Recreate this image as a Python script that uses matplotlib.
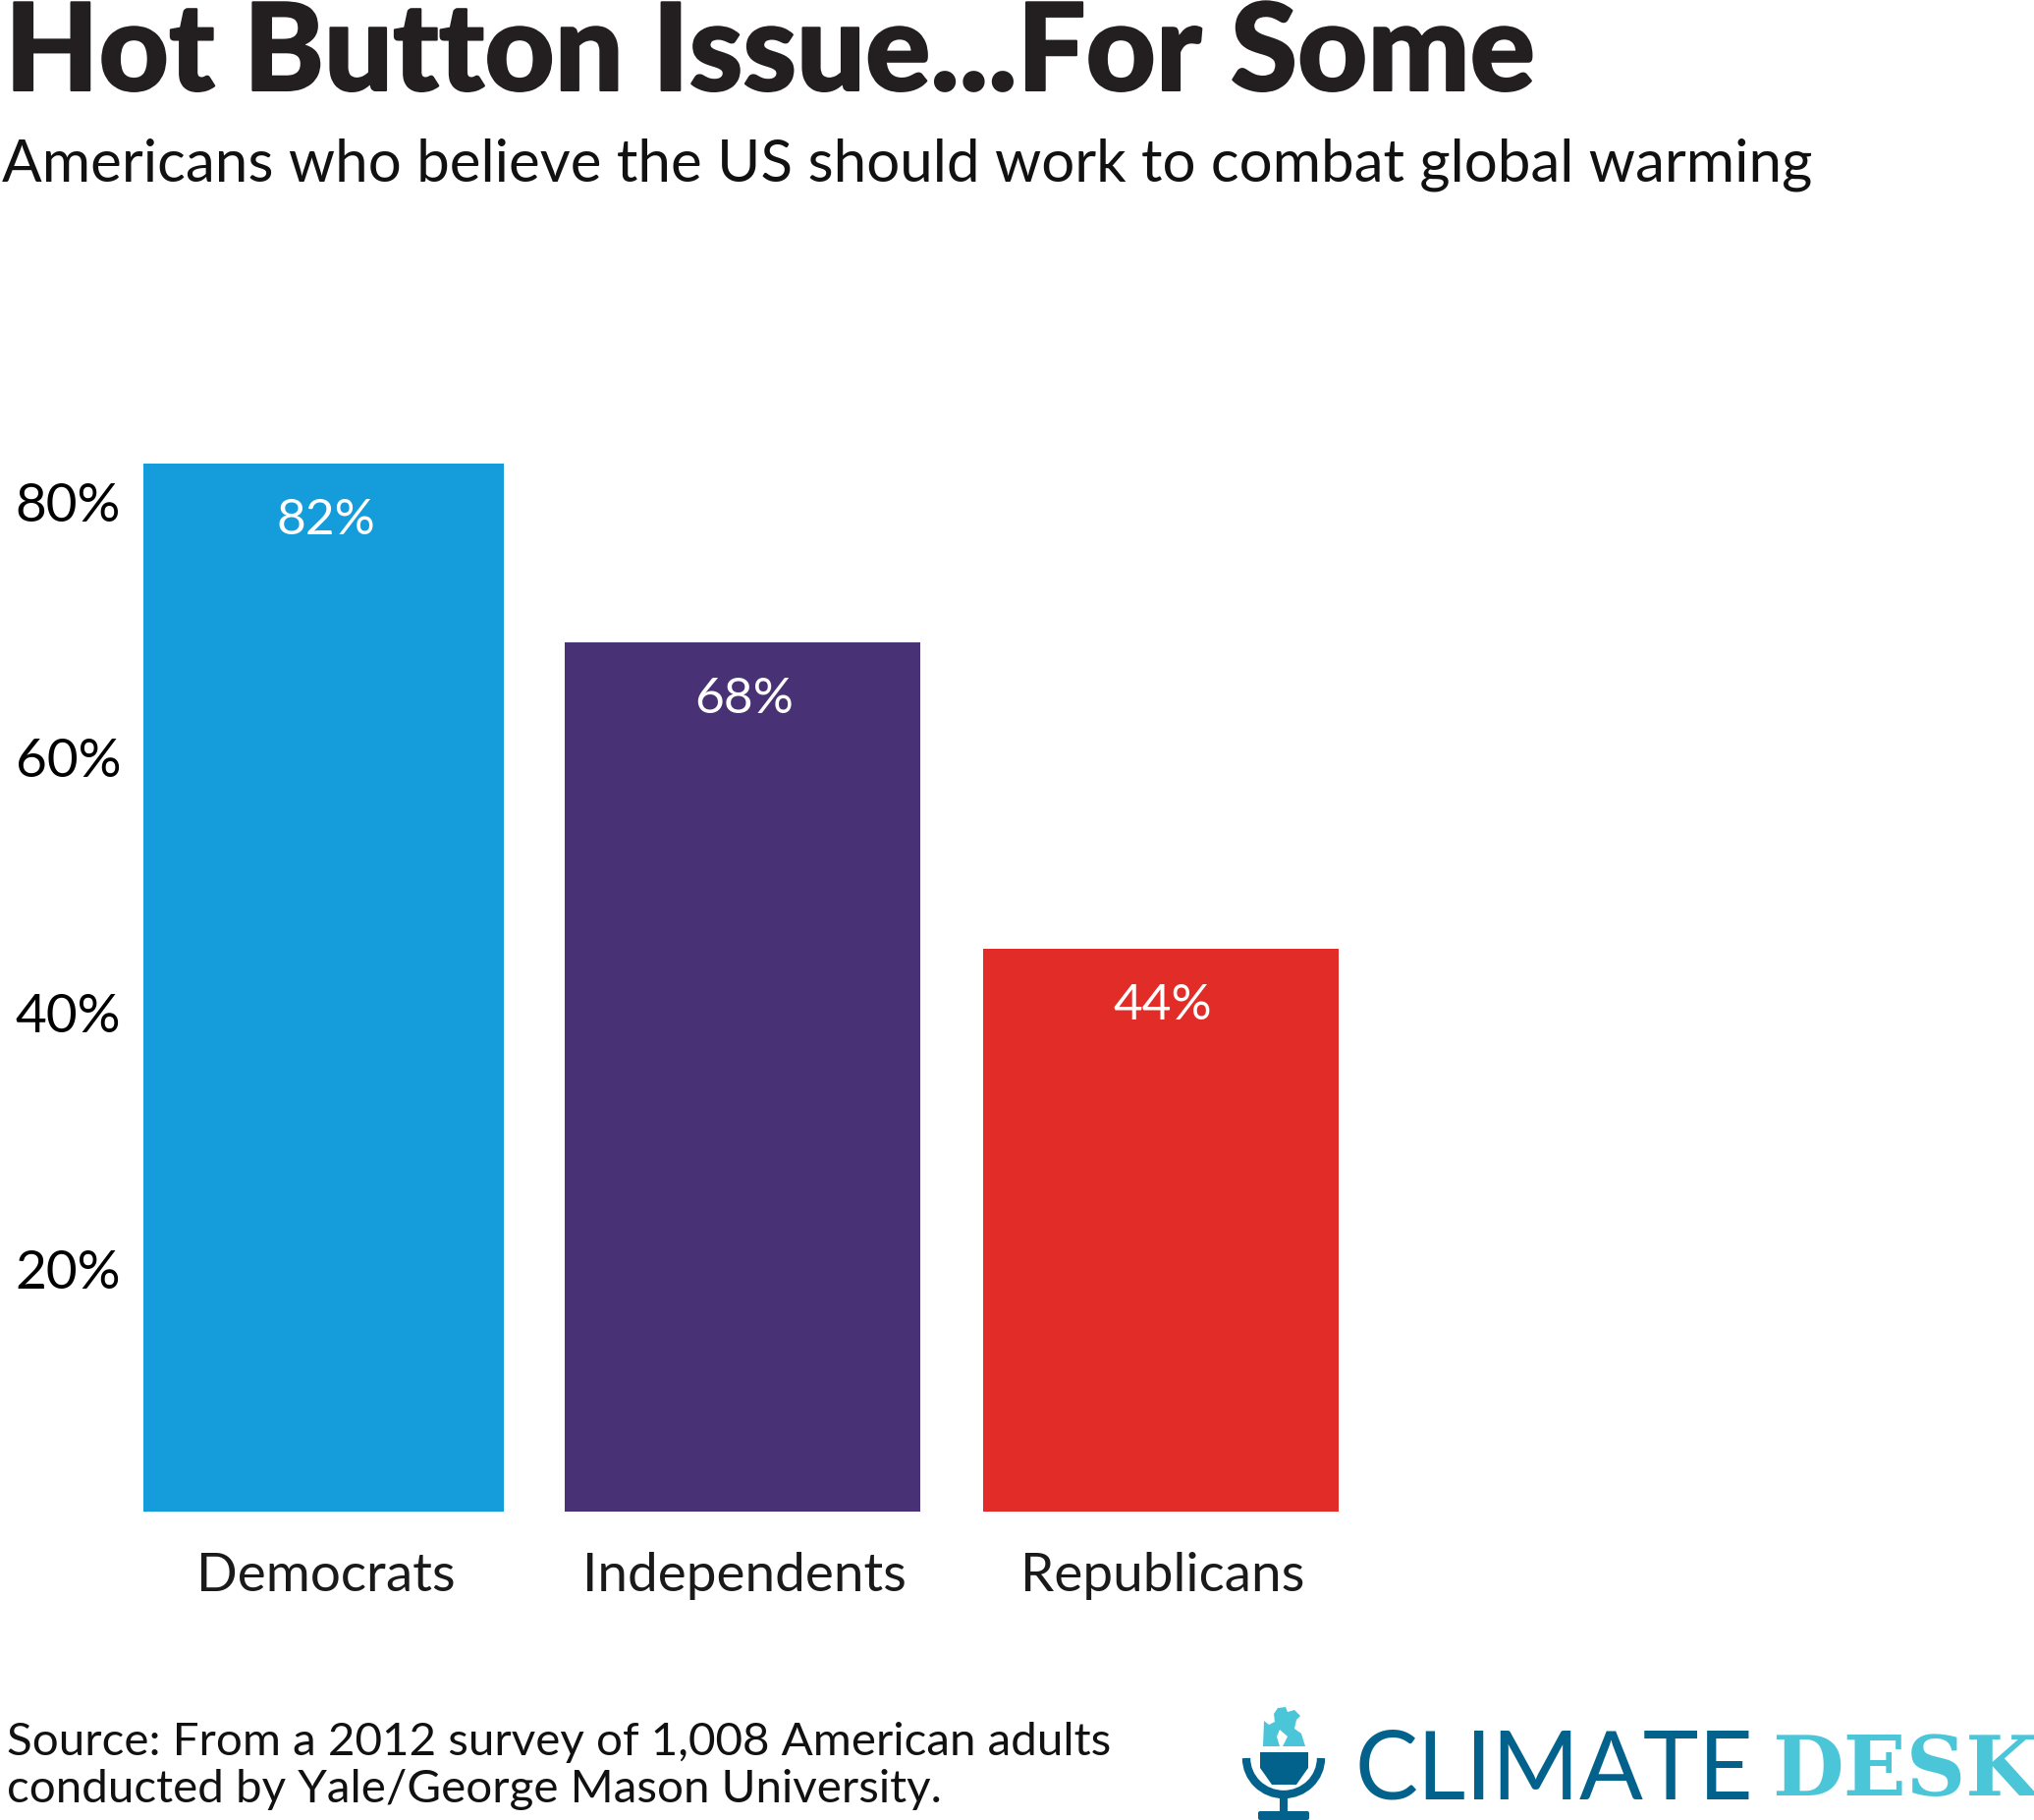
#!/usr/bin/python
# -*- coding:utf-8 -*-
import matplotlib
matplotlib.use("Agg")
import matplotlib.pyplot as plt
import matplotlib.patheffects as pe
from matplotlib.patches import Arc, Polygon, Rectangle, FancyBboxPatch
from matplotlib.transforms import ScaledTranslation

# DATA
parties = ["Democrats", "Independents", "Republicans"]
percent = [82, 68, 44]
bar_colors = ["#159CDA", "#483175", "#E22C27"]
y_ticks = [20, 40, 60, 80]
y_tick_labels = ["20%", "40%", "60%", "80%"]

title = "Hot Button Issue...For Some"
subtitle = "Americans who believe the US should work to combat global warming"
source = "Source: From a 2012 survey of 1,008 American adults\nconducted by Yale/George Mason University."

W, H = 2071, 1853
plt.rcParams["font.family"] = ["Lato", "DejaVu Sans"]

fig = plt.figure(figsize=(W / 100, H / 100), dpi=100, facecolor="white")

# bars, axes placed so that 1 unit on x is about 427 px
left, right = 130, 1400
x0, step = 329.5, 426.3
ax = fig.add_axes([left / W, (H - 1538.7) / H, (right - left) / W, (1538.7 - 472) / H])
ax.set_xlim((left - x0) / step, (right - x0) / step)
ax.set_ylim(0, 82)
ax.bar(range(3), percent, width=[0.859, 0.849, 0.851], color=bar_colors)

for s in ax.spines.values():
    s.set_visible(False)
ax.patch.set_visible(False)
ax.set_xticks(range(3), parties)
ax.set_yticks(y_ticks, y_tick_labels)
ax.tick_params(length=0)
ax.tick_params(axis="x", labelsize=39.5, pad=30, labelcolor="#1a1a1a")
ax.tick_params(axis="y", labelsize=39.5, pad=5, labelcolor="black")
# the y labels sit a little below their real height in the original
down = ScaledTranslation(0, -13 / 100, fig.dpi_scale_trans)
for lab in ax.get_yticklabels():
    lab.set_transform(lab.get_transform() + down)
# x labels a bit right of the bar centres
shift = ScaledTranslation(2 / 100, 0, fig.dpi_scale_trans)
for lab in ax.get_xticklabels():
    lab.set_transform(lab.get_transform() + shift)

for i, v in enumerate(percent):
    ax.annotate(str(v) + "%", (i, v), xytext=(1.5, -41.5), textcoords="offset points",
                ha="center", va="center", color="white", fontsize=37)

# overlay in pixels for the texts and the logo
ov = fig.add_axes([0, 0, 1, 1])
ov.set_xlim(0, W)
ov.set_ylim(H, 0)
ov.axis("off")

ov.text(5, 56, title, fontsize=89, fontweight="black", color="#231F20", va="center", ha="left",
        path_effects=[pe.withStroke(linewidth=1.5, foreground="#231F20")])
ov.text(2, 168, subtitle, fontsize=43.3, color="#111111", va="center", ha="left")
ov.text(7, 1798, source, fontsize=34.2, color="#111111", va="center", ha="left", linespacing=1.2)

# logo
dark = "#03628B"
light = "#4AC6D8"
globe = [(1286, 1778), (1287, 1752), (1292, 1756), (1298, 1753), (1297, 1745), (1301, 1739),
         (1309, 1738), (1311, 1743), (1318, 1741), (1324, 1747), (1320, 1751), (1318, 1760),
         (1325, 1765), (1329, 1778), (1306, 1778), (1311, 1768), (1303, 1761), (1300, 1768),
         (1303, 1778)]
ov.add_patch(Polygon(globe, closed=True, color=light, lw=0))
cup = [(1283, 1784), (1332, 1784), (1332, 1800), (1327, 1807), (1320, 1817), (1295, 1817),
       (1288, 1807), (1283, 1800)]
ov.add_patch(Polygon(cup, closed=True, color=dark, lw=0))
ov.add_patch(Arc((1307, 1790), 76, 74, theta1=0, theta2=180, color=dark, lw=6))
ov.add_patch(Rectangle((1303, 1826), 8, 20, color=dark, lw=0))
ov.add_patch(FancyBboxPatch((1283, 1846), 48, 5, boxstyle="round,pad=2", color=dark, lw=0))

ov.text(1380, 1805, "CLIMATE", fontsize=69, color=dark, va="center", ha="left", family="Lato")
ov.text(1804, 1805, "DESK", fontsize=60.5, color=light, va="center", ha="left",
        family="DejaVu Serif", fontweight="bold")

plt.savefig("out.png", dpi=100)
